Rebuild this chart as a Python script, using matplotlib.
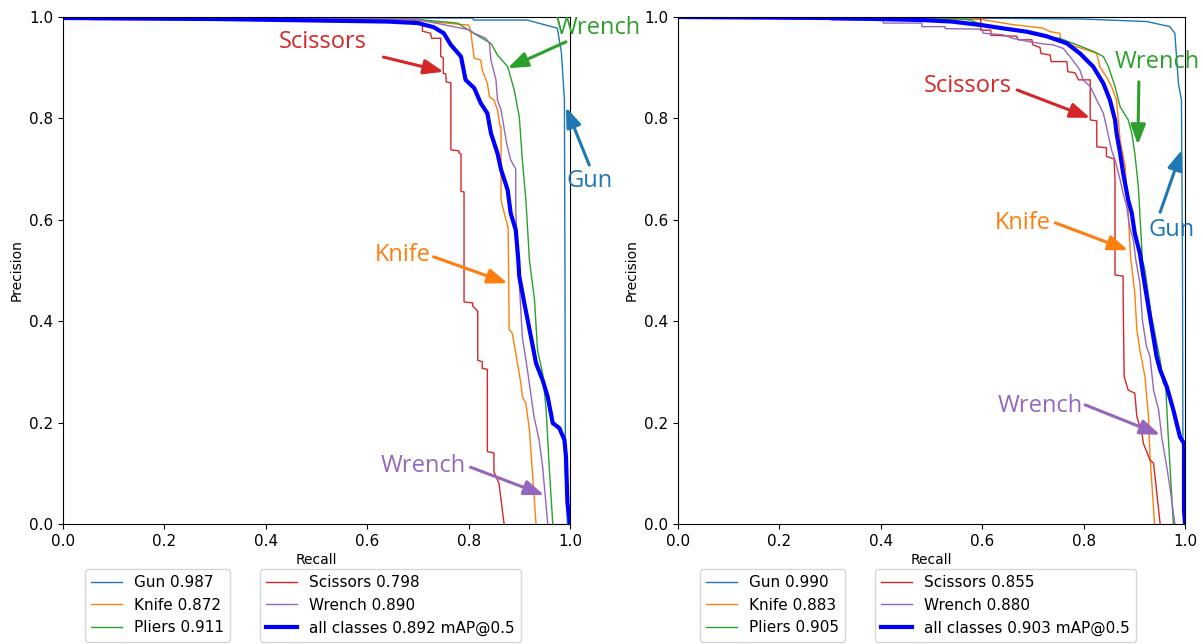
import numpy as np
import matplotlib
matplotlib.use("Agg")
from matplotlib import pyplot as plt

# ---- model A (left) PR curves ----
a_gun_r = [0, 0.17, 0.17, 0.808, 0.81, 0.915, 0.93, 0.975, 0.983, 0.989, 0.990, 0.991, 0.995]
a_gun_p = [1.0, 1.0, 0.998, 0.998, 0.994, 0.994, 0.99, 0.978, 0.93, 0.836, 0.52, 0.1, 0.0]

a_knife_r = [0, 0.053, 0.053, 0.70, 0.80, 0.804, 0.808, 0.811, 0.824, 0.827, 0.837, 0.841, 0.850, 0.857,
             0.862, 0.864, 0.864, 0.877, 0.878, 0.880, 0.886, 0.893, 0.903, 0.906, 0.913, 0.920, 0.933]
a_knife_p = [1.0, 1.0, 0.995, 0.993, 0.984, 0.974, 0.941, 0.919, 0.915, 0.895, 0.869, 0.843, 0.836, 0.817,
             0.784, 0.784, 0.639, 0.586, 0.586, 0.383, 0.377, 0.337, 0.278, 0.251, 0.238, 0.185, 0.0]

a_pliers_r = [0, 0.70, 0.778, 0.818, 0.844, 0.857, 0.877, 0.890, 0.900, 0.906, 0.913, 0.920, 0.930,
              0.936, 0.946, 0.953, 0.959, 0.966]
a_pliers_p = [1.0, 0.995, 0.988, 0.963, 0.948, 0.925, 0.902, 0.856, 0.803, 0.718, 0.639, 0.52, 0.442,
              0.343, 0.297, 0.225, 0.113, 0.0]

a_scissors_r = [0, 0.69, 0.70, 0.709, 0.709, 0.725, 0.727, 0.745, 0.745, 0.75, 0.75, 0.755, 0.756, 0.765,
                0.765, 0.781, 0.781, 0.785, 0.785, 0.791, 0.791, 0.808, 0.808, 0.818, 0.818, 0.827, 0.827,
                0.837, 0.837, 0.850, 0.850, 0.860, 0.870]
a_scissors_p = [0.998, 0.995, 0.988, 0.985, 0.972, 0.968, 0.958, 0.958, 0.922, 0.920, 0.889, 0.888, 0.872,
                0.870, 0.738, 0.736, 0.732, 0.730, 0.656, 0.655, 0.438, 0.436, 0.430, 0.420, 0.323, 0.320,
                0.307, 0.305, 0.143, 0.140, 0.103, 0.080, 0.0]

a_wrench_r = [0, 0.70, 0.75, 0.80, 0.811, 0.834, 0.841, 0.844, 0.854, 0.857, 0.864, 0.875, 0.883, 0.893,
              0.893, 0.897, 0.900, 0.906, 0.916, 0.929, 0.939, 0.946, 0.956]
a_wrench_p = [1.0, 0.995, 0.985, 0.975, 0.968, 0.958, 0.948, 0.915, 0.876, 0.836, 0.817, 0.751, 0.718, 0.70,
              0.619, 0.52, 0.475, 0.369, 0.304, 0.212, 0.166, 0.113, 0.0]

a_all_r = [0, 0.30, 0.64, 0.70, 0.731, 0.751, 0.765, 0.785, 0.794, 0.811, 0.824, 0.837, 0.844, 0.857, 0.864,
           0.877, 0.883, 0.893, 0.898, 0.900, 0.910, 0.923, 0.933, 0.946, 0.956, 0.966, 0.979, 0.989, 0.992,
           0.995, 1.0]
a_all_p = [0.998, 0.996, 0.991, 0.988, 0.980, 0.968, 0.945, 0.922, 0.876, 0.860, 0.830, 0.810, 0.771, 0.731,
           0.699, 0.659, 0.613, 0.580, 0.521, 0.488, 0.435, 0.369, 0.317, 0.284, 0.251, 0.199, 0.189, 0.166,
           0.133, 0.041, 0.0]

# ---- model B (right) ----
b_gun_r = [0, 0.55, 0.80, 0.925, 0.970, 0.980, 0.987, 0.993, 0.995, 0.996, 1.0]
b_gun_p = [1.0, 0.998, 0.996, 0.991, 0.981, 0.968, 0.869, 0.836, 0.521, 0.1, 0.0]

b_knife_r = [0, 0.60, 0.66, 0.72, 0.734, 0.753, 0.755, 0.783, 0.806, 0.826, 0.832, 0.845, 0.855, 0.865,
             0.872, 0.882, 0.888, 0.893, 0.895, 0.901, 0.905, 0.911, 0.921, 0.928, 0.931, 0.940]
b_knife_p = [1.0, 0.995, 0.985, 0.978, 0.971, 0.968, 0.955, 0.942, 0.935, 0.928, 0.902, 0.882, 0.863, 0.836,
             0.757, 0.705, 0.613, 0.521, 0.507, 0.455, 0.383, 0.343, 0.291, 0.212, 0.133, 0.0]

b_pliers_r = [0, 0.55, 0.576, 0.60, 0.66, 0.720, 0.753, 0.787, 0.820, 0.839, 0.849, 0.862, 0.872, 0.888,
              0.895, 0.901, 0.908, 0.916, 0.921, 0.934, 0.951, 0.957, 0.962, 0.967, 0.977]
b_pliers_p = [1.0, 0.997, 0.994, 0.985, 0.975, 0.962, 0.958, 0.945, 0.932, 0.922, 0.902, 0.863, 0.823, 0.797,
              0.771, 0.731, 0.665, 0.521, 0.501, 0.409, 0.323, 0.278, 0.270, 0.172, 0.0]

b_scissors_r = [0, 0.597, 0.597, 0.617, 0.617, 0.668, 0.671, 0.698, 0.70, 0.714, 0.716, 0.734, 0.736, 0.767,
                0.769, 0.783, 0.79, 0.813, 0.813, 0.826, 0.826, 0.845, 0.845, 0.860, 0.862, 0.862, 0.878,
                0.878, 0.88, 0.888, 0.901, 0.905, 0.915, 0.918, 0.931, 0.938, 0.951]
b_scissors_p = [1.0, 1.0, 0.974, 0.974, 0.964, 0.962, 0.955, 0.955, 0.945, 0.940, 0.928, 0.925, 0.912, 0.912,
                0.892, 0.890, 0.876, 0.876, 0.797, 0.795, 0.744, 0.742, 0.725, 0.72, 0.679, 0.491, 0.489,
                0.445, 0.291, 0.264, 0.258, 0.212, 0.179, 0.159, 0.126, 0.12, 0.0]

b_wrench_r = [0, 0.30, 0.303, 0.405, 0.405, 0.481, 0.481, 0.527, 0.527, 0.60, 0.602, 0.641, 0.66, 0.694,
              0.72, 0.740, 0.760, 0.773, 0.783, 0.793, 0.799, 0.813, 0.826, 0.839, 0.845, 0.855, 0.862,
              0.872, 0.878, 0.885, 0.891, 0.898, 0.903, 0.911, 0.916, 0.924, 0.931, 0.938, 0.948, 0.954,
              0.964, 0.970, 0.980]
b_wrench_p = [1.0, 1.0, 0.994, 0.994, 0.988, 0.988, 0.981, 0.981, 0.977, 0.976, 0.968, 0.965, 0.958, 0.951,
              0.947, 0.945, 0.938, 0.922, 0.909, 0.895, 0.876, 0.863, 0.836, 0.810, 0.784, 0.738, 0.718,
              0.679, 0.652, 0.626, 0.586, 0.560, 0.521, 0.475, 0.402, 0.350, 0.330, 0.264, 0.225, 0.172,
              0.113, 0.074, 0.0]

b_all_r = [0, 0.303, 0.481, 0.540, 0.599, 0.645, 0.688, 0.727, 0.767, 0.793, 0.819, 0.839, 0.852, 0.862,
           0.865, 0.872, 0.878, 0.888, 0.895, 0.901, 0.911, 0.918, 0.931, 0.944, 0.951, 0.964, 0.977, 0.990,
           0.998, 0.998, 1.0]
b_all_p = [1.0, 0.998, 0.994, 0.991, 0.984, 0.977, 0.971, 0.962, 0.948, 0.928, 0.902, 0.869, 0.836, 0.797,
           0.771, 0.731, 0.692, 0.639, 0.613, 0.573, 0.534, 0.488, 0.409, 0.330, 0.304, 0.271, 0.225, 0.172,
           0.159, 0.028, 0.0]

a_ap = {"Gun": 0.987, "Knife": 0.872, "Pliers": 0.911, "Scissors": 0.798, "Wrench": 0.890}
b_ap = {"Gun": 0.990, "Knife": 0.883, "Pliers": 0.905, "Scissors": 0.855, "Wrench": 0.880}
a_map = 0.892
b_map = 0.903

colors = {"Gun": "#1f77b4", "Knife": "#ff7f0e", "Pliers": "#2ca02c", "Scissors": "#d62728", "Wrench": "#9467bd"}

# label, colour, text pos, arrow tail, arrow tip  (data coords)
a_notes = [
    ("Scissors", "#d62728", (0.512, 0.951), (0.632, 0.921), (0.751, 0.892)),
    ("Wrench", "#2ca02c", (1.055, 0.978), (0.992, 0.951), (0.877, 0.899)),
    ("Gun", "#1f77b4", (1.038, 0.677), (1.038, 0.708), (0.992, 0.822)),
    ("Knife", "#ff7f0e", (0.670, 0.531), (0.731, 0.527), (0.877, 0.475)),
    ("Wrench", "#9467bd", (0.711, 0.114), (0.804, 0.112), (0.949, 0.057)),
]
b_notes = [
    ("Scissors", "#d62728", (0.572, 0.864), (0.669, 0.856), (0.813, 0.801)),
    ("Wrench", "#2ca02c", (0.945, 0.911), (0.909, 0.872), (0.907, 0.748)),
    ("Gun", "#1f77b4", (0.974, 0.580), (0.951, 0.615), (0.994, 0.738)),
    ("Knife", "#ff7f0e", (0.679, 0.594), (0.744, 0.594), (0.888, 0.540)),
    ("Wrench", "#9467bd", (0.714, 0.233), (0.803, 0.235), (0.951, 0.176)),
]

W, H = 1203, 644
fig = plt.figure(figsize=(W / 100, H / 100), dpi=100)


def draw(left_px, curves, ap, notes):
    ax = fig.add_axes([left_px / W, (H - 524) / H, 507 / W, 507 / H])
    handles = []
    for name, (r, p) in curves.items():
        h, = ax.plot(r, p, color=colors[name], lw=1, label=f"{name} {ap[name]:.3f}")
        handles.append(h)
    ax.set_xlim(0, 1)
    ax.set_ylim(0, 1)
    ax.set_xlabel("Recall", fontsize=10, labelpad=3)
    ax.set_ylabel("Precision", fontsize=10)
    ax.tick_params(labelsize=11)
    for txt, c, tpos, tail, tip in notes:
        ax.text(tpos[0], tpos[1], txt, color=c, fontsize=17, family="Open Sans",
                ha="center", va="center", clip_on=False)
        ax.annotate("", xy=tip, xytext=tail, annotation_clip=False,
                    arrowprops=dict(arrowstyle="-|>,head_length=0.8,head_width=0.3", color=c,
                                    lw=2.2, mutation_scale=15, shrinkA=0, shrinkB=0))
    return ax, handles


for side in ("a", "b"):
    g = globals()
    curves = {n: (g[f"{side}_{n.lower()}_r"], g[f"{side}_{n.lower()}_p"])
              for n in ["Gun", "Knife", "Pliers", "Scissors", "Wrench"]}
    ap = a_ap if side == "a" else b_ap
    mp = a_map if side == "a" else b_map
    notes = a_notes if side == "a" else b_notes
    left_px = 63 if side == "a" else 678
    ax, handles = draw(left_px, curves, ap, notes)
    h_all, = ax.plot(g[f"{side}_all_r"], g[f"{side}_all_p"], color="blue", lw=3,
                     label=f"all classes {mp:.3f} mAP@0.5")
    handles.append(h_all)
    x1 = 85 if side == "a" else 700
    x2 = 260 if side == "a" else 875
    fig.legend(handles=handles[:3], loc="upper left", bbox_to_anchor=(x1 / W, 1 - 569 / H),
               fontsize=11, borderaxespad=0)
    fig.legend(handles=handles[3:], loc="upper left", bbox_to_anchor=(x2 / W, 1 - 569 / H),
               fontsize=11, borderaxespad=0)

fig.savefig("out.png", dpi=100)
